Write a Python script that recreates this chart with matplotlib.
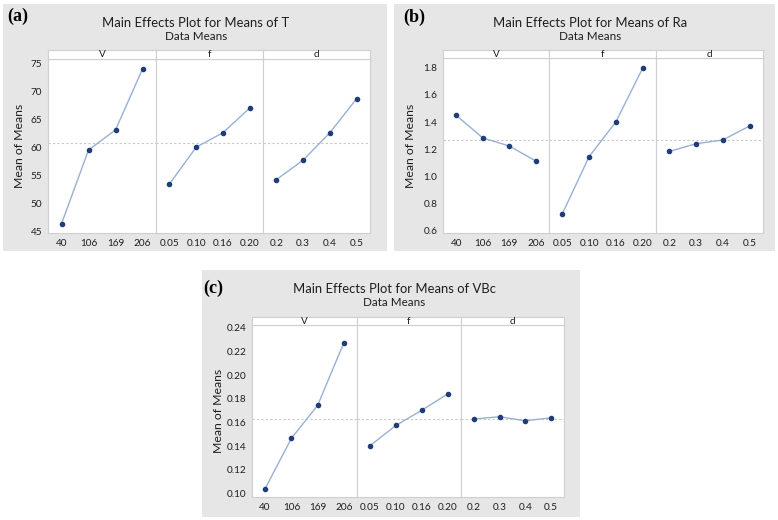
import numpy as np
import matplotlib.pyplot as plt
from matplotlib.patches import Rectangle

plt.rcParams['font.family'] = ['Lato', 'DejaVu Sans']

# --- data ---
factors = ['V', 'f', 'd']
levels_V = ['40', '106', '169', '206']
levels_f = ['0.05', '0.10', '0.16', '0.20']
levels_d = ['0.2', '0.3', '0.4', '0.5']

T_V = [46.3, 59.5, 63.1, 74.0]
T_f = [53.4, 60.0, 62.6, 67.0]
T_d = [54.2, 57.7, 62.6, 68.7]

Ra_V = [1.449, 1.283, 1.224, 1.114]
Ra_f = [0.727, 1.146, 1.401, 1.795]
Ra_d = [1.184, 1.241, 1.268, 1.371]

VBc_V = [0.1042, 0.1467, 0.1745, 0.2274]
VBc_f = [0.1405, 0.1576, 0.1705, 0.1843]
VBc_d = [0.1630, 0.1649, 0.1615, 0.1640]

T_ticks = [45, 50, 55, 60, 65, 70, 75]
Ra_ticks = [0.6, 0.8, 1.0, 1.2, 1.4, 1.6, 1.8]
VBc_ticks = [0.10, 0.12, 0.14, 0.16, 0.18, 0.20, 0.22, 0.24]

W, H = 778, 520
fig = plt.figure(figsize=(W / 100, H / 100), dpi=100)

BG = '#e6e6e6'
LINE = '#98b0d4'
MARK = '#1f3d78'
GRID = '#cfcfcf'
REF = '#c8c8c8'
TXT = '#1e1e1e'


def fx(px):
    return px / W


def fy(py):
    return 1 - py / H


def add_rect(x0, y0, x1, y1, color):
    fig.patches.append(Rectangle((fx(x0), fy(y1)), fx(x1 - x0), (y1 - y0) / H,
                                 transform=fig.transFigure, facecolor=color,
                                 edgecolor='none', zorder=-5))


def panel(box, edges, strip, plot_top, bottom, series, ticks, fmt, ylim,
          title, letter, title_x, letter_xy):
    x0, y0, x1, y1 = box
    add_rect(x0, y0, x1, y1, BG)
    fig.text(fx(title_x), fy(y0 + 19), title, ha='center', va='center',
             fontsize=9.4, color=TXT)
    fig.text(fx(title_x), fy(y0 + 33), 'Data Means', ha='center', va='center',
             fontsize=8.4, color=TXT)
    fig.text(fx(letter_xy[0]), fy(letter_xy[1]), letter, ha='left', va='center',
             fontsize=13, fontweight='bold', family='Liberation Serif')
    fig.text(fx(x0 + 17), fy((plot_top + bottom) / 2), 'Mean of Means',
             rotation=90, ha='center', va='center', fontsize=8.8, color=TXT)

    grand = np.mean(np.concatenate([np.asarray(s) for s, _ in series]))
    for i, (vals, labels) in enumerate(series):
        l, r = edges[i], edges[i + 1]
        ax = fig.add_axes([fx(l), fy(bottom), fx(r - l), (bottom - plot_top) / H])
        ax.set_facecolor('white')
        xs = np.arange(len(vals))
        ax.axhline(grand, color=REF, lw=0.8, ls=(0, (2, 2)), zorder=1)
        ax.plot(xs, vals, color=LINE, lw=1.0, zorder=2)
        ax.plot(xs, vals, 'o', color=MARK, ms=3.0, zorder=3)
        ax.set_xlim(-0.5, 3.5)
        ax.set_ylim(*ylim)
        ax.set_xticks(xs)
        ax.set_xticklabels(labels)
        ax.set_yticks(ticks)
        if i == 0:
            ax.set_yticklabels([fmt % t for t in ticks])
        else:
            ax.tick_params(axis='y', left=False, labelleft=False)
        ax.tick_params(length=0, labelsize=7.2, colors=TXT, pad=4)
        for sp in ax.spines.values():
            sp.set_color(GRID)
            sp.set_linewidth(0.8)

        sax = fig.add_axes([fx(l), fy(plot_top), fx(r - l), (plot_top - strip) / H])
        sax.set_facecolor('white')
        sax.set_xticks([])
        sax.set_yticks([])
        for sp in sax.spines.values():
            sp.set_color(GRID)
            sp.set_linewidth(0.8)
        sax.text(0.5, 0.45, factors[i], transform=sax.transAxes, ha='center',
                 va='center', fontsize=7.2, color=TXT)


panel((3, 4, 387, 251), [48, 156, 263, 370], 50, 59, 233,
      [(T_V, levels_V), (T_f, levels_f), (T_d, levels_d)],
      T_ticks, '%d', (44.65, 75.8),
      'Main Effects Plot for Means of T', '(a)', 196, (7, 16))

panel((394, 4, 775, 251), [443, 549, 656, 763], 50, 58, 233,
      [(Ra_V, levels_V), (Ra_f, levels_f), (Ra_d, levels_d)],
      Ra_ticks, '%.1f', (0.585, 1.87),
      'Main Effects Plot for Means of Ra', '(b)', 590, (403, 17))

panel((202, 270, 580, 517), [252, 357, 461, 564], 317, 325, 497,
      [(VBc_V, levels_V), (VBc_f, levels_f), (VBc_d, levels_d)],
      VBc_ticks, '%.2f', (0.0972, 0.2423),
      'Main Effects Plot for Means of VBc', '(c)', 394, (203, 288))

fig.savefig('out.png', dpi=100)
